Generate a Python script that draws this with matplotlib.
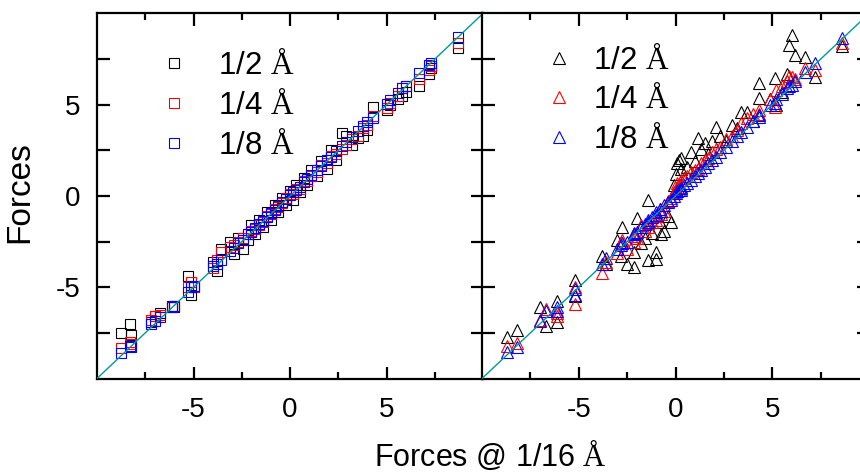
import numpy as np
import matplotlib
matplotlib.use("Agg")
import matplotlib.pyplot as plt
from matplotlib.ticker import FixedLocator

plt.rcParams['font.family'] = ['Liberation Sans', 'DejaVu Sans']
plt.rcParams['mathtext.fontset'] = 'custom'
plt.rcParams['mathtext.rm'] = 'Liberation Serif'
plt.rcParams['axes.unicode_minus'] = False

# left panel (squares): reference force @ 1/16 A and forces at coarser spacing
left_x = [-8.75, -8.3, -8.25, -7.2, -7.0, -6.75, -6.1, -6.0, -5.3, -5.15, -5.0,
          -4.0, -3.8, -3.55, -3.1, -2.9, -2.7, -2.45, -2.2, -2.0, -1.8, -1.6,
          -1.4, -1.2, -1.0, -0.8, -0.6, -0.4, -0.2, 0.0, 0.15, 0.3, 0.5, 0.7,
          0.9, 1.1, 1.4, 1.6, 1.9, 2.1, 2.4, 2.7, 2.9, 3.2, 3.5, 3.8, 4.0, 4.3,
          5.0, 5.2, 5.6, 5.8, 6.0, 6.7, 7.2, 7.3, 8.7]
left_half = [-7.5, -7.0, -7.6, -6.9, -6.6, -6.4, -6.05, -6.1, -4.4, -5.4, -5.0,
             -3.6, -4.1, -2.9, -2.5, -3.2, -2.3, -2.9, -2.4, -1.6, -2.1, -1.3,
             -1.7, -0.9, -1.3, -0.5, -0.9, -0.1, -0.5, 0.3, -0.2, 0.6, 0.2, 1.0,
             0.6, 1.4, 1.1, 1.9, 1.5, 2.5, 2.0, 3.45, 3.3, 2.8, 3.2, 3.3, 3.6, 4.9,
             4.7, 5.0, 5.3, 5.5, 5.7, 6.0, 6.7, 7.0, 8.1]
left_quarter = [-8.35, -8.0, -8.1, -6.8, -6.6, -6.5, -6.1, -6.0, -5.0, -4.7, -5.0,
                -3.95, -3.5, -3.05, -2.8, -2.7, -2.5, -2.3, -2.1, -1.9, -1.8, -1.6,
                -1.4, -1.1, -1.0, -0.7, -0.6, -0.4, -0.1, 0.1, 0.1, 0.4, 0.4, 0.8,
                0.8, 1.1, 1.3, 1.7, 1.8, 2.2, 2.3, 2.6, 2.8, 3.1, 3.3, 3.7, 3.9, 4.4,
                4.8, 5.1, 5.5, 5.9, 6.0, 6.4, 6.9, 7.1, 8.4]
left_eighth = [-8.6, -8.2, -8.25, -7.0, -6.85, -6.65, -6.1, -6.05, -5.25, -5.0, -4.95,
               -3.85, -3.7, -3.5, -3.0, -2.85, -2.6, -2.4, -2.1, -1.95, -1.75, -1.55,
               -1.35, -1.15, -0.95, -0.75, -0.55, -0.35, -0.15, 0.05, 0.2, 0.35, 0.5, 0.75,
               0.95, 1.15, 1.45, 1.65, 1.95, 2.15, 2.45, 2.75, 2.95, 3.25, 3.55, 3.85, 4.05, 4.3,
               5.05, 5.25, 5.65, 5.9, 6.05, 6.75, 7.2, 7.3, 8.7]

# right panel (triangles)
right_x = [-8.7, -8.2, -7.0, -6.7, -6.1, -6.1, -5.2, -5.2, -3.8, -3.6, -3.0, -2.8,
           -2.75, -2.5, -2.15, -2.15, -2.0, -1.8, -1.6, -1.4, -1.4, -1.2, -1.0, -1.0,
           -0.8, -0.75, -0.6, -0.4, -0.25, -0.1, 0.0, 0.1, 0.2, 0.3, 0.3, 0.45, 0.6,
           0.8, 1.0, 1.15, 1.3, 1.5, 1.7, 1.9, 2.07, 2.3, 2.6, 2.9, 3.2, 3.4, 3.7,
           4.0, 4.3, 4.3, 4.9, 5.16, 5.2, 5.5, 5.76, 5.85, 6.0, 6.2, 6.7, 7.2, 8.6]
right_half = [-7.7, -7.35, -6.1, -7.1, -5.75, -6.9, -4.6, -5.5, -3.3, -3.7, -2.4, -3.3,
              -1.7, -3.7, -3.9, -3.07, -1.2, -2.6, -2.3, -3.5, -0.2, -2.0, -3.45, -3.07,
              -1.4, -2.1, -1.9, -1.1, -1.4, 0.6, 1.2, 1.8, 2.0, 1.5, 2.1, 1.0, 1.6,
              2.4, 1.9, 3.2, 2.6, 2.9, 2.3, 3.0, 3.8, 3.3, 3.0, 3.9, 3.7, 4.6, 4.6,
              4.1, 6.2, 5.35, 5.3, 6.45, 5.0, 5.7, 6.7, 8.3, 8.8, 7.7, 7.6, 6.5, 8.2]
right_quarter = [-8.2, -8.05, -6.8, -6.2, -6.6, -6.4, -5.9, -5.0, -4.2, -3.6, -3.1, -2.5,
                 -2.4, -2.9, -2.5, -2.2, -2.3, -1.6, -1.9, -1.7, -1.5, -1.4, -1.3, -1.1,
                 -0.7, -1.0, -0.8, -0.3, -0.1, 0.2, 0.4, 0.7, 0.6, 0.9, 0.5, 1.0, 1.1,
                 1.3, 1.4, 1.5, 1.8, 2.0, 2.1, 2.4, 2.6, 2.7, 3.1, 3.3, 3.6, 4.0, 4.3,
                 4.5, 4.7, 4.5, 5.3, 4.9, 5.8, 6.0, 6.3, 6.6, 6.5, 6.4, 7.0, 6.9, 8.4]
right_eighth = [-8.55, -8.25, -6.85, -6.3, -6.1, -6.3, -5.1, -5.4, -3.7, -3.4, -2.9, -2.7,
                -2.6, -2.5, -2.1, -2.0, -1.95, -1.7, -1.55, -1.45, -1.3, -1.15, -1.05, -0.9,
                -0.7, -0.8, -0.5, -0.35, -0.2, 0.0, 0.15, 0.25, 0.35, 0.45, 0.35, 0.6, 0.7,
                0.9, 1.1, 1.25, 1.4, 1.6, 1.8, 2.0, 2.15, 2.4, 2.7, 3.0, 3.3, 3.5, 3.8,
                4.1, 4.45, 4.35, 5.0, 5.1, 5.3, 5.6, 5.9, 6.0, 6.1, 6.3, 6.8, 7.3, 8.65]

labels = ['1/2 $\\mathrm{Å}$', '1/4 $\\mathrm{Å}$', '1/8 $\\mathrm{Å}$']
colors = ['black', 'red', 'blue']
major_ticks = [-5, 0, 5]
minor_ticks = [-7.5, -2.5, 2.5, 7.5]
lim = (-10, 10)
diag = [-10, 10]

fig = plt.figure(figsize=(8.6, 4.73), dpi=100)
ax1 = fig.add_axes([97 / 860, 94.5 / 473, 386 / 860, 365 / 473])
ax2 = fig.add_axes([482 / 860, 94.5 / 473, 387 / 860, 365 / 473])

# axes, x data, series, marker, size, legend text pad, legend top
panels = [
    (ax1, left_x, [left_half, left_quarter, left_eighth], 's', 7.5, 0.93, 0.90),
    (ax2, right_x, [right_half, right_quarter, right_eighth], '^', 8.5, 0.61, 0.915),
]

for ax, xs, series, mk, ms, pad, top in panels:
    for ys, c, lab in zip(series, colors, labels):
        ax.plot(xs, ys, ls='none', marker=mk, ms=ms, mfc='none', mec=c,
                mew=0.8, label=lab)
    ax.plot(diag, diag, color='#009999', lw=1.0, zorder=5)
    ax.set_xlim(lim)
    ax.set_ylim(lim)
    ax.xaxis.set_major_locator(FixedLocator(major_ticks))
    ax.xaxis.set_minor_locator(FixedLocator(minor_ticks))
    ax.yaxis.set_major_locator(FixedLocator(major_ticks))
    ax.yaxis.set_minor_locator(FixedLocator(minor_ticks))
    ax.tick_params(which='both', direction='in', top=True, right=True, width=1.6,
                   labelsize=20)
    ax.tick_params(axis='x', which='major', length=9, pad=13)
    ax.tick_params(axis='x', which='minor', length=5)
    ax.tick_params(axis='y', which='both', length=9, pad=12)
    for sp in ax.spines.values():
        sp.set_linewidth(1.6)
    ax.legend(loc='upper left', bbox_to_anchor=(0.158, top), frameon=False,
              fontsize=22.5, handlelength=1.0, handletextpad=pad, labelspacing=0.28,
              borderpad=0, borderaxespad=0, markerscale=0.95)

ax2.tick_params(axis='y', which='both', labelleft=False)
ax1.set_ylabel('Forces', fontsize=24)
ax1.yaxis.set_label_coords(-0.16, 0.51)
fig.text(490 / 860, 1 - 466 / 473, 'Forces @ 1/16 $\\mathrm{Å}$', fontsize=22,
         ha='center', va='baseline')

fig.savefig('out.png', dpi=100)
